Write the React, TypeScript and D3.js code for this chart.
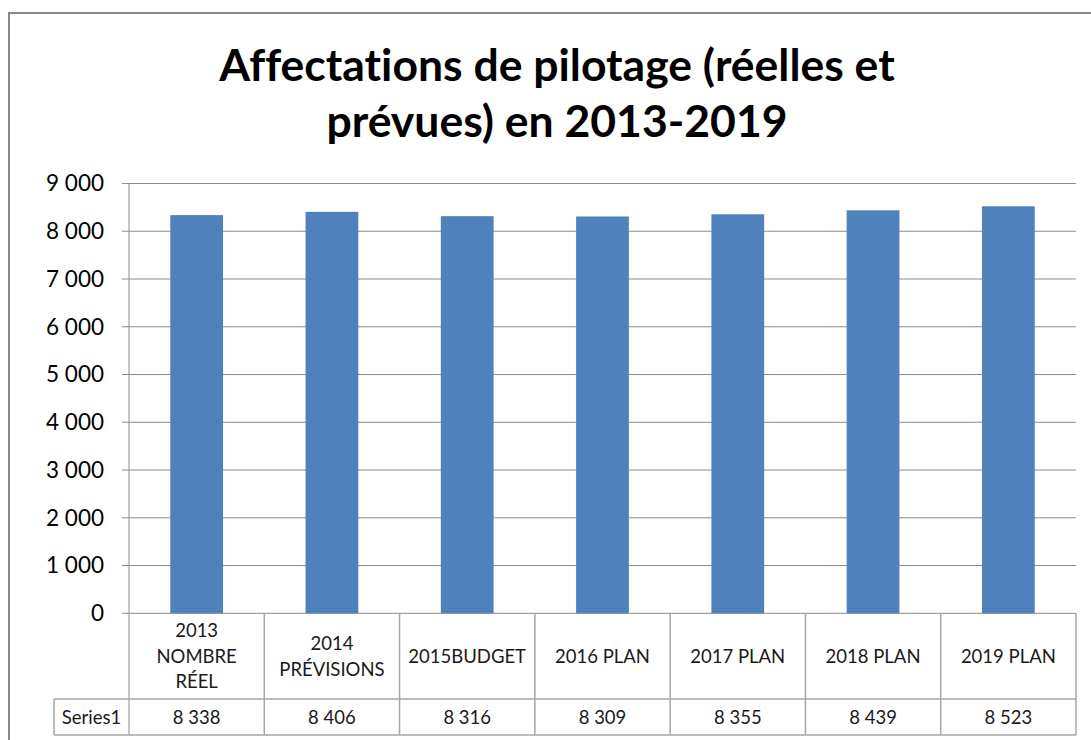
import React from "react";
import * as d3 from "d3";

const titleLines = ["Affectations de pilotage (réelles et", "prévues) en 2013-2019"];
const categories = ["2013\nNOMBRE\nRÉEL", "2014\nPRÉVISIONS", "2015BUDGET", "2016 PLAN", "2017 PLAN", "2018 PLAN", "2019 PLAN"];
const seriesName = "Series1";
const values = [8338, 8406, 8316, 8309, 8355, 8439, 8523];
const yTicks = [0, 1000, 2000, 3000, 4000, 5000, 6000, 7000, 8000, 9000];

const W = 1091;
const H = 740;
const left = 129;
const right = 1076;
const top = 183.5;
const bottom = 613.3;
const headerBottom = 699;
const tableBottom = 735;
const seriesLeft = 54;

const FONT = "Lato, 'Open Sans', sans-serif";

export default function App() {
  const x = d3.scaleBand<string>().domain(categories).range([left, right]).paddingInner(0).paddingOuter(0);
  const y = d3.scaleLinear().domain([0, 9000]).range([bottom, top]);
  const locale = d3.formatLocale({ decimal: ",", thousands: " ", grouping: [3], currency: ["", "€"] });
  const fmt = locale.format(",d");
  const bw = x.bandwidth() * 0.39;
  const gridColor = "#8c8c8c";
  const tableColor = "#a6a6a6";
  const noLig = { fontVariantLigatures: "none" as const, fontFeatureSettings: "'liga' 0" };

  return (
    <svg width={W} height={H} style={{ position: "absolute", left: 0, top: 0, background: "#fff" }}>
      <rect x={0} y={0} width={W} height={H} fill="#fff" />
      <rect x={9} y={13} width={W + 20} height={H + 20} fill="none" stroke="#878787" strokeWidth={2} />
      {titleLines.map((t, i) => (
        <text key={i} x={557} y={81 + i * 56} textAnchor="middle" fontFamily={FONT} fontWeight="bold" fontSize={44.5} fill="#000" style={noLig}>
          {t}
        </text>
      ))}
      {yTicks.map((t) => (
        <g key={t}>
          <line x1={left - 7} x2={right} y1={y(t)} y2={y(t)} stroke={gridColor} strokeWidth={1} />
          <text x={104} y={y(t)} dy="0.35em" textAnchor="end" fontFamily={FONT} fontSize={22.5} fill="#000">
            {fmt(t)}
          </text>
        </g>
      ))}
      {values.map((v, i) => {
        const c = categories[i];
        const cx = (x(c) as number) + x.bandwidth() / 2;
        return <rect key={i} x={cx - bw / 2} y={y(v)} width={bw} height={y(0) - y(v)} fill="#4F81BD" />;
      })}
      <line x1={left} x2={left} y1={top} y2={tableBottom} stroke={gridColor} strokeWidth={1} />
      {categories.map((c, i) => (
        <line key={"v" + i} x1={(x(c) as number) + x.bandwidth()} x2={(x(c) as number) + x.bandwidth()} y1={bottom} y2={tableBottom} stroke={tableColor} strokeWidth={1.5} />
      ))}
      <line x1={seriesLeft} x2={right} y1={headerBottom} y2={headerBottom} stroke={tableColor} strokeWidth={1.5} />
      <line x1={seriesLeft} x2={right} y1={tableBottom} y2={tableBottom} stroke={tableColor} strokeWidth={1.5} />
      <line x1={seriesLeft} x2={seriesLeft} y1={headerBottom} y2={tableBottom} stroke={tableColor} strokeWidth={1.5} />
      {categories.map((c, i) => {
        const lines = c.split("\n");
        const cx = (x(c) as number) + x.bandwidth() / 2;
        const mid = (bottom + headerBottom) / 2;
        const lh = 25.5;
        return (
          <text key={"c" + i} x={cx} textAnchor="middle" fontFamily={FONT} fontSize={18.5} fill="#1a1a1a">
            {lines.map((l, j) => (
              <tspan key={j} x={cx} y={mid + (j - (lines.length - 1) / 2) * lh} dy="0.36em">
                {l}
              </tspan>
            ))}
          </text>
        );
      })}
      <text x={(seriesLeft + left) / 2} y={(headerBottom + tableBottom) / 2} dy="0.36em" textAnchor="middle" fontFamily={FONT} fontSize={18.5} fill="#1a1a1a">
        {seriesName}
      </text>
      {values.map((v, i) => {
        const c = categories[i];
        const cx = (x(c) as number) + x.bandwidth() / 2;
        return (
          <text key={"t" + i} x={cx} y={(headerBottom + tableBottom) / 2} dy="0.36em" textAnchor="middle" fontFamily={FONT} fontSize={18.5} fill="#1a1a1a">
            {fmt(v)}
          </text>
        );
      })}
    </svg>
  );
}
